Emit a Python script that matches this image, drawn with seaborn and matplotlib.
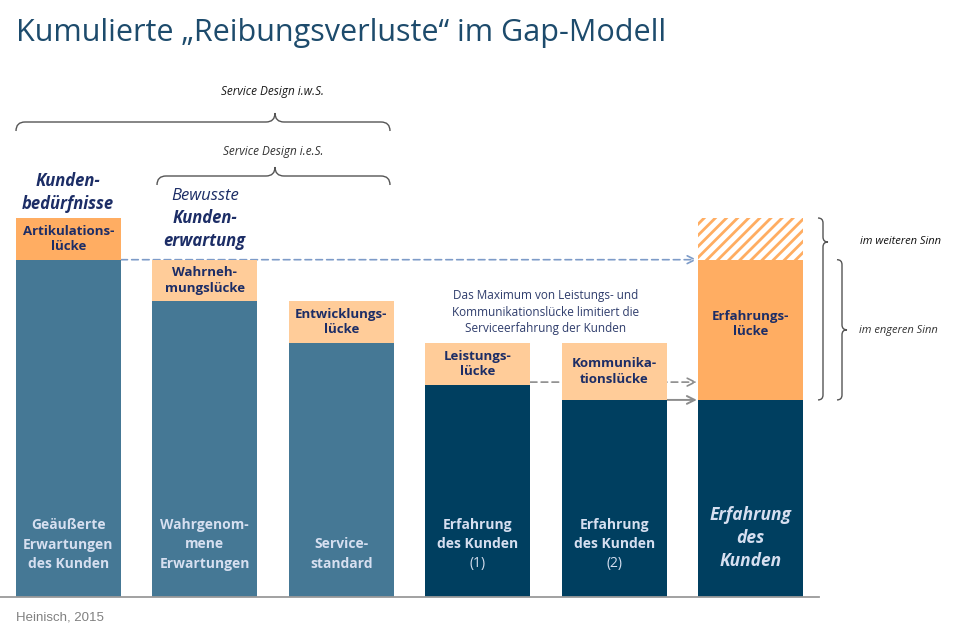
import matplotlib.pyplot as plt
import matplotlib.patches as mpatches
import matplotlib.transforms as mtransforms
from matplotlib.path import Path
import seaborn as sns
import pandas as pd

# Werte (Gesamthöhe Balken 1 = 100)
categories = ['Geäußerte Erwartungen', 'Wahrgenommene Erwartungen', 'Servicestandard',
              'Erfahrung (1)', 'Erfahrung (2)', 'Erfahrung des Kunden']
base_values = [89, 78, 67, 56, 52, 52]
gap_values = [11, 11, 11, 11, 15, 37]
wide_gap = 11  # schraffierter Teil der Erfahrungslücke (i.w.S.)

bar_lines = [['Geäußerte', 'Erwartungen', 'des Kunden'],
             ['Wahrgenom-', 'mene', 'Erwartungen'],
             ['Service-', 'standard'],
             ['Erfahrung', 'des Kunden', '(1)'],
             ['Erfahrung', 'des Kunden', '(2)'],
             ['Erfahrung', 'des', 'Kunden']]
gap_labels = ['Artikulations-\nlücke', 'Wahrneh-\nmungslücke', 'Entwicklungs-\nlücke',
              'Leistungs-\nlücke', 'Kommunika-\ntionslücke', 'Erfahrungs-\nlücke']

steel = '#457895'
navy = '#003f60'
orange = '#ffad62'
peach = '#ffcc99'
base_colors = [steel, steel, steel, navy, navy, navy]
gap_colors = [orange, peach, peach, peach, peach, orange]

label_navy = '#1c2d66'
light_text = '#d6dff0'

W, H = 958, 637
BASE_Y = 597      # Pixelzeile der Grundlinie
PX = 3.79         # Pixel je Werteinheit
bar_w = 0.77

sns.set_theme(style='white')
plt.rcParams['font.family'] = ['Open Sans', 'DejaVu Sans']
plt.rcParams['hatch.linewidth'] = 2.0

fig = plt.figure(figsize=(W / 100, H / 100), dpi=100)
ax = fig.add_axes([0, (H - BASE_Y) / H, 819 / W, BASE_Y / H])

df = pd.DataFrame({'kategorie': categories, 'basis': base_values, 'luecke': gap_values})
df['gesamt'] = df['basis'] + df['luecke']
df_weit = df.iloc[[5]].copy()
df_weit['weit'] = df_weit['gesamt'] + wide_gap

# Schraffur (Erfahrungslücke im weiteren Sinn)
sns.barplot(data=df_weit, x='kategorie', y='weit', order=categories, color='white',
            width=bar_w, saturation=1, errorbar=None, linewidth=0, ax=ax)
for p in ax.patches:
    p.set_hatch('///')
    p.set_edgecolor(orange)
    p.set_linewidth(0)

# Lücken (gestapelt über die Gesamthöhe)
sns.barplot(data=df, x='kategorie', y='gesamt', hue='kategorie', order=categories,
            hue_order=categories, palette=gap_colors, legend=False, width=bar_w,
            saturation=1, errorbar=None, linewidth=0, ax=ax)
# Basis
sns.barplot(data=df, x='kategorie', y='basis', hue='kategorie', order=categories,
            hue_order=categories, palette=base_colors, legend=False, width=bar_w,
            saturation=1, errorbar=None, linewidth=0, ax=ax)

ax.set_xlim(-0.5, 5.5)
ax.set_ylim(0, BASE_Y / PX)
ax.set_xlabel('')
ax.set_ylabel('')
ax.set_xticks([])
ax.set_yticks([])
for side in ['left', 'right', 'top']:
    ax.spines[side].set_visible(False)
ax.spines['bottom'].set_color('#9a9a9a')
ax.spines['bottom'].set_linewidth(1.3)

# Pfeile
arrow_end = 5 - bar_w / 2 - 0.01
ax.annotate('', xy=(arrow_end, base_values[0]), xytext=(bar_w / 2, base_values[0]),
            arrowprops=dict(arrowstyle='->', color='#7d9bc8', lw=1.2, linestyle=(0, (4, 2.5)),
                            shrinkA=0, shrinkB=0, mutation_scale=14), zorder=0.5)
ax.annotate('', xy=(arrow_end, base_values[3] + 0.7), xytext=(3 + bar_w / 2, base_values[3] + 0.7),
            arrowprops=dict(arrowstyle='->', color='#8c8c8c', lw=1.2, linestyle=(0, (4, 2.5)),
                            shrinkA=0, shrinkB=0, mutation_scale=14), zorder=0.5)
ax.annotate('', xy=(arrow_end, base_values[4]), xytext=(4 + bar_w / 2, base_values[4]),
            arrowprops=dict(arrowstyle='->', color='#8c8c8c', lw=1.4,
                            shrinkA=0, shrinkB=0, mutation_scale=14), zorder=0.5)

# Beschriftung der Lücken
for i, (b, g) in enumerate(zip(base_values, gap_values)):
    ax.text(i, b + g / 2 + (1.5 if i == 5 else 0), gap_labels[i], ha='center', va='center',
            fontsize=9.5, fontweight='bold', color=label_navy, linespacing=1.25)

# Overlay in Pixelkoordinaten
pax = fig.add_axes([0, 0, 1, 1], zorder=5)
pax.set_xlim(0, W)
pax.set_ylim(H, 0)
pax.axis('off')
bt = mtransforms.blended_transform_factory(ax.transData, pax.transData)


def ypx(v):
    return BASE_Y - v * PX


# Balkenbeschriftungen unten
for i, lines in enumerate(bar_lines):
    if i == 5:
        for k, line in enumerate(lines):
            pax.text(i, 515 + k * 23, line, transform=bt, ha='center', va='center',
                     fontsize=12.5, fontweight='bold', fontstyle='italic', color=light_text)
        continue
    y0 = 525 if len(lines) == 3 else 525 + 19.5
    for k, line in enumerate(lines):
        weight = 'normal' if line.startswith('(') else 'bold'
        pax.text(i, y0 + k * 19.5, line, transform=bt, ha='center', va='center',
                 fontsize=10, fontweight=weight, color=light_text)

# Beschriftungen über den Balken
pax.text(0, 181, 'Kunden-', transform=bt, ha='center', va='center', fontsize=12,
         fontweight='bold', fontstyle='italic', color=label_navy)
pax.text(0, 204, 'bedürfnisse', transform=bt, ha='center', va='center', fontsize=12,
         fontweight='bold', fontstyle='italic', color=label_navy)
pax.text(1, 196, 'Bewusste', transform=bt, ha='center', va='center', fontsize=12,
         fontstyle='italic', color=label_navy)
pax.text(1, 218, 'Kunden-', transform=bt, ha='center', va='center', fontsize=12,
         fontweight='bold', fontstyle='italic', color=label_navy)
pax.text(1, 241, 'erwartung', transform=bt, ha='center', va='center', fontsize=12,
         fontweight='bold', fontstyle='italic', color=label_navy)

pax.text(546, 312, 'Das Maximum von Leistungs- und\nKommunikationslücke limitiert die\n'
         'Serviceerfahrung der Kunden', ha='center', va='center', fontsize=8.5,
         color='#2f3d6c', linespacing=1.35)


def brace(axis, s0, s1, st, spine, r, vertical=False, **kw):
    pts = [(s0, -r), (s0, 0), (s0 + r, 0), (st - r, 0), (st, 0), (st, r),
           (st, 0), (st + r, 0), (s1 - r, 0), (s1, 0), (s1, -r)]
    codes = [Path.MOVETO, Path.CURVE3, Path.CURVE3, Path.LINETO, Path.CURVE3, Path.CURVE3,
             Path.CURVE3, Path.CURVE3, Path.LINETO, Path.CURVE3, Path.CURVE3]
    if vertical:
        verts = [(spine + t, s) for s, t in pts]
    else:
        verts = [(s, spine - t) for s, t in pts]
    axis.add_patch(mpatches.PathPatch(Path(verts, codes), fill=False, **kw))


brace(pax, 16, 390, 275, 122, 9, color='#555555', lw=1)
brace(pax, 157, 390, 275, 176, 9, color='#555555', lw=1)
pax.text(273, 92, 'Service Design i.w.S.', ha='center', va='center', fontsize=8.5,
         fontstyle='italic', color='#1a1a1a')
pax.text(273, 152, 'Service Design i.e.S.', ha='center', va='center', fontsize=8.5,
         fontstyle='italic', color='#333333')

total_wide = base_values[5] + gap_values[5] + wide_gap
brace(pax, ypx(total_wide), ypx(base_values[5]), ypx(total_wide) + 24, 823, 5,
      vertical=True, color='#555555', lw=1)
brace(pax, ypx(base_values[5] + gap_values[5]), ypx(base_values[5]),
      ypx(base_values[5] + gap_values[5] / 2), 842, 5, vertical=True, color='#555555', lw=1)
pax.text(860, 242, 'im weiteren Sinn', ha='left', va='center', fontsize=8,
         fontstyle='italic', color='#111111')
pax.text(859, 330, 'im engeren Sinn', ha='left', va='center', fontsize=8,
         fontstyle='italic', color='#333333')

# Titel und Quelle
pax.text(16, 33, 'Kumulierte „Reibungsverluste“ im Gap-Modell', ha='left', va='center',
         fontsize=22, color='#1d4b6c')
pax.text(16, 617, 'Heinisch, 2015', ha='left', va='center', fontsize=9.5,
         family=['Liberation Sans', 'DejaVu Sans'], color='#808080')

fig.savefig('out.png', dpi=100)
